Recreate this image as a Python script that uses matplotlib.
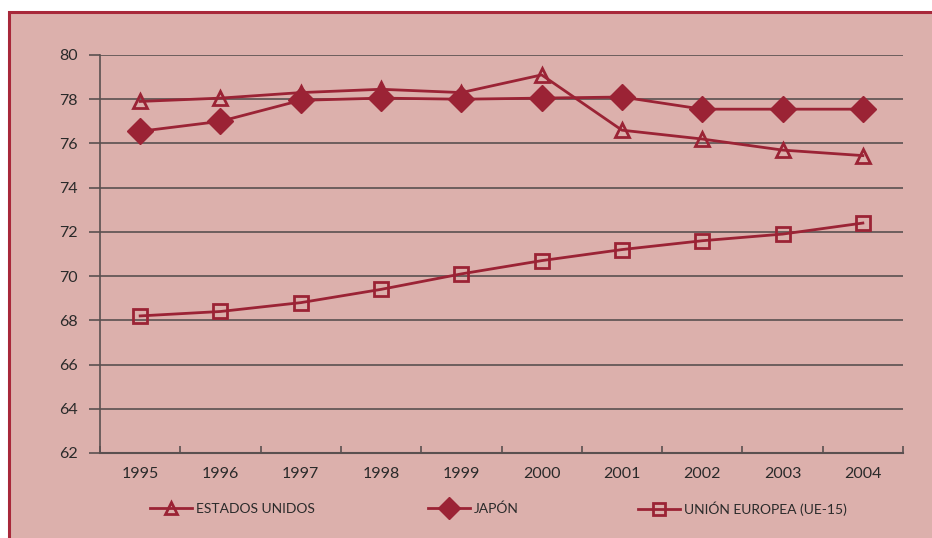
import matplotlib.pyplot as plt
from matplotlib.patches import Rectangle
import numpy as np

years = ['1995', '1996', '1997', '1998', '1999', '2000', '2001', '2002', '2003', '2004']
estados_unidos = [77.9, 78.05, 78.3, 78.45, 78.3, 79.1, 76.6, 76.2, 75.7, 75.45]
japon = [76.55, 77.0, 77.95, 78.05, 78.0, 78.05, 78.1, 77.55, 77.55, 77.55]
union_europea = [68.2, 68.4, 68.8, 69.4, 70.1, 70.7, 71.2, 71.6, 71.9, 72.4]

red = '#9B2335'
bg = '#DCB0AC'
grid = '#5a5050'

plt.rcParams['font.family'] = ['Lato', 'DejaVu Sans']

fig = plt.figure(figsize=(9.32, 5.38), dpi=100)
fig.patch.set_facecolor('white')
# pink frame with dark red border
frame = Rectangle((9 / 932, -0.01), 1.0, 1 - 12 / 538 + 0.01,
                  transform=fig.transFigure, facecolor=bg,
                  edgecolor='#A8283A', linewidth=2.2, zorder=-10)
fig.add_artist(frame)

ax = fig.add_axes([100 / 932, 1 - 453 / 538, 803 / 932, 398 / 538])
ax.set_facecolor('none')
ax.set_zorder(1)

x = np.arange(len(years))
l1, = ax.plot(x, estados_unidos, color=red, lw=2, marker='^', ms=10, mfc='none',
              mec=red, mew=2, label='ESTADOS UNIDOS', zorder=3)
l2, = ax.plot(x, japon, color=red, lw=2, marker='D', ms=13, mfc=red,
              mec=red, label='JAPÓN', zorder=3)
l3, = ax.plot(x, union_europea, color=red, lw=2, marker='s', ms=10, mfc='none',
              mec=red, mew=2, label='UNIÓN EUROPEA (UE-15)', zorder=3)

ax.set_xlim(-0.5, len(years) - 0.5)
ax.set_ylim(62, 80)
ax.set_yticks(range(62, 81, 2))
ax.yaxis.grid(True, color=grid, lw=1.2)
ax.set_axisbelow(True)

ax.set_xticks(x)
ax.set_xticklabels(years)
ax.set_xticks(np.arange(-0.5, len(years)), minor=True)
ax.tick_params(axis='x', which='major', length=0, pad=10, labelsize=11.5, colors='#2a2a2a')
ax.tick_params(axis='x', which='minor', length=5, width=1.2, color=grid, direction='in')
ax.tick_params(axis='y', length=8, width=1.2, color=grid, pad=8, labelsize=11.5, labelcolor='#2a2a2a')

for s in ['top', 'right']:
    ax.spines[s].set_visible(False)
ax.spines['left'].set_color(grid)
ax.spines['left'].set_linewidth(1.2)
ax.spines['bottom'].set_color(grid)
ax.spines['bottom'].set_linewidth(1.5)

# one legend per series, placed where the reference has them
for line, xpos in [(l1, 150), (l2, 428), (l3, 638)]:
    leg = fig.legend(handles=[line], loc='center left',
                     bbox_to_anchor=(xpos / 932, 1 - 509 / 538), frameon=False,
                     fontsize=10, handlelength=3.0, handletextpad=0.3,
                     borderpad=0, borderaxespad=0, labelcolor='#2a2a2a',
                     markerscale=0.85)

fig.savefig('out.png', dpi=100)
